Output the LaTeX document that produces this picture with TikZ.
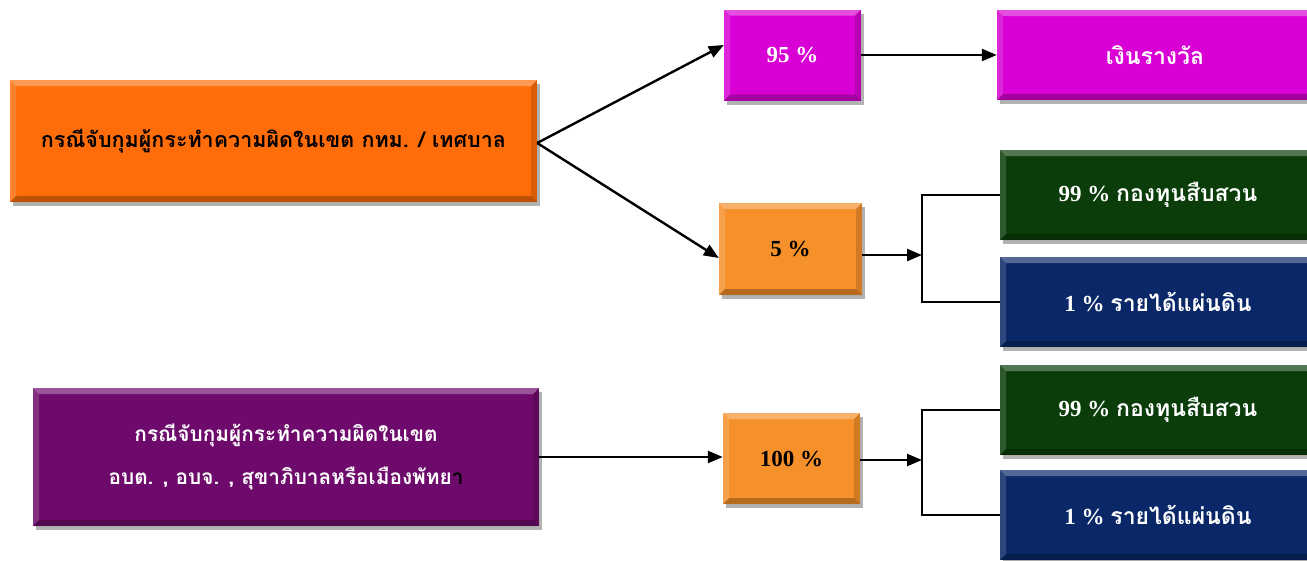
\documentclass[tikz,border=0pt]{standalone}
\usepackage{fontspec}
\setmainfont{Liberation Serif}
\newfontfamily\thai[Script=Thai]{Loma}
\usetikzlibrary{arrows.meta,shadows}
\definecolor{orangeA}{HTML}{FF6D0A}
\definecolor{orangeB}{HTML}{F5902A}
\definecolor{magentaA}{HTML}{D800D4}
\definecolor{greenA}{HTML}{0A3D0A}
\definecolor{blueA}{HTML}{0A2868}
\definecolor{purpleA}{HTML}{6E0A6C}
\tikzset{
  bevel/.style={path picture={
    \fill[white,opacity=0.3] (path picture bounding box.north west) -- (path picture bounding box.north east) -- ([shift={(-6pt,-6pt)}]path picture bounding box.north east) -- ([shift={(6pt,-6pt)}]path picture bounding box.north west) -- cycle;
    \fill[white,opacity=0.15] (path picture bounding box.north west) -- ([shift={(6pt,-6pt)}]path picture bounding box.north west) -- ([shift={(6pt,6pt)}]path picture bounding box.south west) -- (path picture bounding box.south west) -- cycle;
    \fill[black,opacity=0.25] (path picture bounding box.south west) -- (path picture bounding box.south east) -- ([shift={(-6pt,6pt)}]path picture bounding box.south east) -- ([shift={(6pt,6pt)}]path picture bounding box.south west) -- cycle;
    \fill[black,opacity=0.15] (path picture bounding box.north east) -- ([shift={(-6pt,-6pt)}]path picture bounding box.north east) -- ([shift={(-6pt,6pt)}]path picture bounding box.south east) -- (path picture bounding box.south east) -- cycle;
  }},
  box/.style={rectangle, inner sep=2pt, align=center, font=\bfseries\fontsize{23}{42}\selectfont,
    bevel, drop shadow={shadow xshift=3pt, shadow yshift=-4pt, opacity=0.3, fill=black}},
  conn/.style={line width=2.4pt, -{Triangle[length=15pt,width=12pt]}},
  brk/.style={line width=2.4pt},
}
\begin{document}
\begin{tikzpicture}[x=1pt,y=-1pt]
\useasboundingbox[fill=white] (0,0) rectangle (1307,560);
% nodes
\node[box, fill=orangeA, text=black, minimum width=527pt, minimum height=122pt, font=\bfseries\fontsize{21.5}{30}\selectfont] (src1) at (273.5,141) {\thai กรณีจับกุมผู้กระทำความผิดในเขต กทม. / เทศบาล};
\node[box, fill=purpleA, text=white, minimum width=506pt, minimum height=138pt, font=\bfseries\fontsize{20.8}{43}\selectfont] (src2) at (286,457) {\thai กรณีจับกุมผู้กระทำความผิดในเขต\\ \thai อบต. , อบจ. , สุขาภิบาลหรือเมืองพัทย\textcolor{black}{า}};
\node[box, fill=magentaA, text=white, minimum width=137pt, minimum height=91pt] (p95) at (792.5,55) {95 \%};
\node[box, fill=magentaA, text=white, minimum width=316pt, minimum height=90pt] (reward) at (1155,55) {\thai เงินรางวัล};
\node[box, fill=orangeB, text=black, minimum width=143pt, minimum height=92pt] (p5) at (790.5,249) {5 \%};
\node[box, fill=greenA, text=white, minimum width=316pt, minimum height=90pt] (g1) at (1158,195) {99 \% {\thai กองทุนสืบสวน}};
\node[box, fill=blueA, text=white, minimum width=316pt, minimum height=90pt] (b1) at (1158,302) {1 \% {\thai รายได้แผ่นดิน}};
\node[box, fill=orangeB, text=black, minimum width=137pt, minimum height=91pt] (p100) at (791.5,458.5) {100 \%};
\node[box, fill=greenA, text=white, minimum width=316pt, minimum height=90pt] (g2) at (1158,410) {99 \% {\thai กองทุนสืบสวน}};
\node[box, fill=blueA, text=white, minimum width=316pt, minimum height=90pt] (b2) at (1158,515) {1 \% {\thai รายได้แผ่นดิน}};
% junctions
\coordinate (j1) at (922,255);
\coordinate (j2) at (922,460);
% connectors
\draw[conn] ([yshift=-2pt]src1.east) -- ([yshift=10pt]p95.west);
\draw[conn] ([yshift=-2pt]src1.east) -- ([yshift=-9pt]p5.west);
\draw[conn] (p95.east) -- (p95.east -| reward.west);
\draw[conn] (p5.east |- j1) -- (j1);
\draw[brk] (g1.west) -| (j1) |- (b1.west);
\draw[conn] (src2.east) -- (src2.east -| p100.west);
\draw[conn] (p100.east |- j2) -- (j2);
\draw[brk] (g2.west) -| (j2) |- (b2.west);
\end{tikzpicture}
\end{document}
